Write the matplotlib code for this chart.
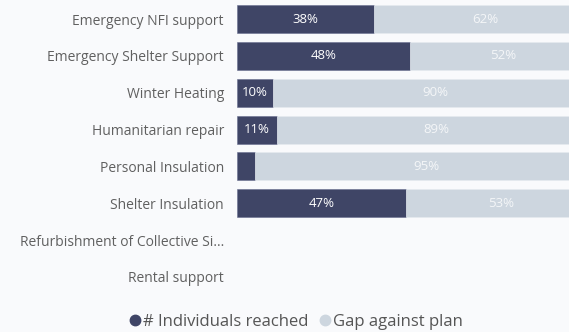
import matplotlib
matplotlib.use("Agg")
import matplotlib.pyplot as plt
from matplotlib.lines import Line2D
import numpy as np

categories = ["Emergency NFI support", "Emergency Shelter Support", "Winter Heating",
              "Humanitarian repair", "Personal Insulation", "Shelter Insulation",
              "Refurbishment of Collective Si...", "Rental support"]
reached = [38, 48, 10, 11, 5, 47, np.nan, np.nan]
gap = [62, 52, 90, 89, 95, 53, np.nan, np.nan]
series_names = ["# Individuals reached", "Gap against plan"]

DARK = "#3f4566"
LIGHT = "#cdd6df"
BG = "#f9fafc"
FONT = ["Open Sans", "DejaVu Sans"]

plt.rcParams['font.family'] = FONT

W, H = 569, 332
fig = plt.figure(figsize=(W / 100, H / 100), dpi=100, facecolor=BG)
left = 237 / W
width = 360 / W
bottom = (H - 295.4) / H
height = 294.8 / H
ax = fig.add_axes([left, bottom, width, height])
ax.set_facecolor(BG)

y = np.arange(len(categories))
r = np.array(reached, dtype=float)
g = np.array(gap, dtype=float)
ax.barh(y, r, height=0.76, color=DARK, edgecolor="#6a7090", linewidth=0.4)
ax.barh(y, g, left=r, height=0.76, color=LIGHT, edgecolor="#e6ebf0", linewidth=0.4)

for i in range(len(categories)):
    if not np.isnan(r[i]) and r[i] >= 8:
        ax.text(r[i] / 2, i, f"{int(r[i])}%", ha="center", va="center",
                color="white", fontsize=9.5)
    if not np.isnan(g[i]) and g[i] >= 8:
        ax.text(r[i] + g[i] / 2, i, f"{int(g[i])}%", ha="center", va="center",
                color="#f4f6f8", fontsize=9.5)

ax.set_xlim(0, 100)
ax.set_ylim(len(categories) - 0.5, -0.5)
ax.set_yticks(y)
ax.set_yticklabels(categories, fontsize=10, color="#606060")
ax.tick_params(axis="y", length=0, pad=9.4)
ax.set_xticks([])
for s in ax.spines.values():
    s.set_visible(False)

handles = [Line2D([0], [0], marker="o", linestyle="", markersize=7.5,
                  markerfacecolor=DARK, markeredgecolor=DARK),
           Line2D([0], [0], marker="o", linestyle="", markersize=7.5,
                  markerfacecolor=LIGHT, markeredgecolor=LIGHT)]
leg = fig.legend(handles, series_names, loc="center", bbox_to_anchor=(0.518, 0.03),
                 ncol=2, frameon=False, fontsize=12, handletextpad=0.0,
                 columnspacing=0.5, handlelength=1.0, labelcolor="#555555",
                 borderpad=0.0)

fig.savefig("out.png", dpi=100, facecolor=BG)
